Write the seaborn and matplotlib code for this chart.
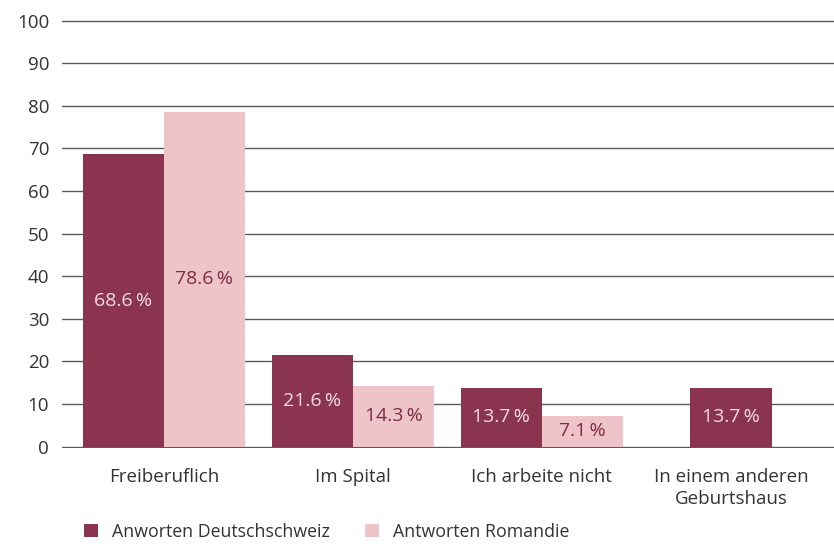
import matplotlib
matplotlib.use("Agg")
import matplotlib.pyplot as plt
import seaborn as sns
import pandas as pd
import numpy as np
from matplotlib.patches import Patch

categories = ["Freiberuflich", "Im Spital", "Ich arbeite nicht", "In einem anderen\nGeburtshaus"]
deutschschweiz = [68.6, 21.6, 13.7, 13.7]
romandie = [78.6, 14.3, 7.1, np.nan]
series_names = ["Anworten Deutschschweiz", "Antworten Romandie"]
yticks = [0, 10, 20, 30, 40, 50, 60, 70, 80, 90, 100]

dark = "#8a3450"
light = "#efc4c9"
dark_text = "#7a2c45"
light_text = "#f3dde0"
grid_col = "#5a5a5a"
text_col = "#333333"

sns.set_theme(style="white")
plt.rcParams["font.family"] = ["Open Sans", "DejaVu Sans"]

rows = []
for c, d, r in zip(categories, deutschschweiz, romandie):
    if not np.isnan(r):
        rows.append({"cat": c, "series": series_names[0], "val": d})
        rows.append({"cat": c, "series": series_names[1], "val": r})
df = pd.DataFrame(rows)
single_cats = [c for c, r in zip(categories, romandie) if np.isnan(r)]
single_vals = [d for d, r in zip(deutschschweiz, romandie) if np.isnan(r)]
df_single = pd.DataFrame({"cat": single_cats, "val": single_vals})

fig = plt.figure(figsize=(8.34, 5.44), dpi=100)
ax = fig.add_axes([0.074, 0.176, 0.926, 0.789])

for y in yticks:
    ax.axhline(y, color=grid_col, lw=1.0, zorder=0)

sns.barplot(data=df, x="cat", y="val", hue="series", order=categories,
            hue_order=series_names, palette=[dark, light], width=0.86,
            dodge=True, gap=0, saturation=1, ax=ax, legend=False, zorder=2,
            linewidth=0, edgecolor="none")
sns.barplot(data=df_single, x="cat", y="val", order=categories, color=dark,
            width=0.43, saturation=1, ax=ax, zorder=2, linewidth=0, edgecolor="none")

for cont in ax.containers:
    fc = cont.patches[0].get_facecolor() if len(cont.patches) else None
    is_dark = fc is not None and np.allclose(fc[:3], matplotlib.colors.to_rgb(dark))
    labels = [f"{v:.1f}\u2009%" if not np.isnan(v) else "" for v in cont.datavalues]
    ax.bar_label(cont, labels=labels, label_type="center",
                 color=light_text if is_dark else dark_text, fontsize=14)

ax.set_xlim(-0.54, 3.545)
ax.set_ylim(-0.4, 100.4)
ax.set_yticks(yticks)
ax.set_yticklabels([str(t) for t in yticks], fontsize=13.5, color=text_col)
ax.tick_params(axis="y", length=0, pad=9)
ax.tick_params(axis="x", length=0, pad=14, labelsize=13.5, labelcolor=text_col)
for lab in ax.get_xticklabels():
    lab.set_linespacing(1.3)
ax.set_xlabel("")
ax.set_ylabel("")
for s in ax.spines.values():
    s.set_visible(False)

handles = [Patch(facecolor=dark, edgecolor="none"), Patch(facecolor=light, edgecolor="none")]
fig.legend(handles, series_names, loc="lower left", bbox_to_anchor=(0.082, -0.024),
           ncol=2, frameon=False, fontsize=12.8, handlelength=0.75, handleheight=0.75,
           handletextpad=0.8, columnspacing=2.0, labelcolor=text_col)

fig.savefig("out.png", dpi=100)
